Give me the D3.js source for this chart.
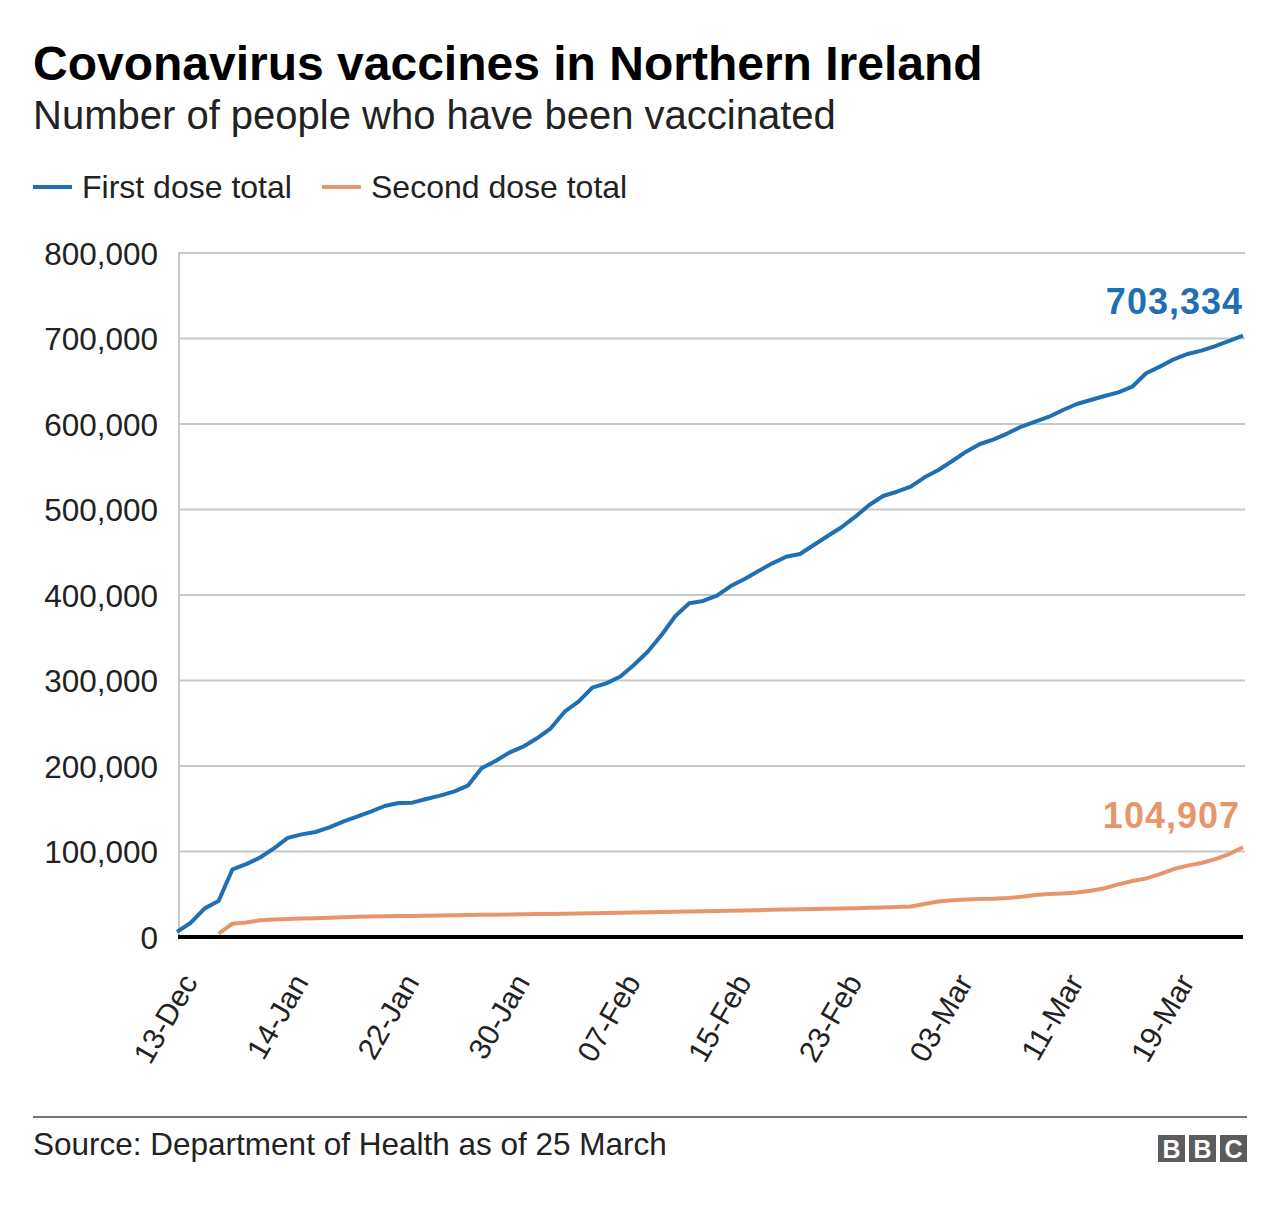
<!DOCTYPE html>
<html>
<head>
<meta charset="utf-8">
<script src="https://cdn.jsdelivr.net/npm/d3@7"></script>
<style>
  html, body { margin: 0; padding: 0; background: #fff; }
  svg text { font-family: "Liberation Sans", Arial, Helvetica, sans-serif; }
</style>
</head>
<body>
<svg id="chart" width="1280" height="1206"></svg>
<script>
// ---- data ----
const dates = [
  "13-Dec","20-Dec","27-Dec","03-Jan","10-Jan","11-Jan","12-Jan","13-Jan",
  "14-Jan","15-Jan","16-Jan","17-Jan","18-Jan","19-Jan","20-Jan","21-Jan",
  "22-Jan","23-Jan","24-Jan","25-Jan","26-Jan","27-Jan","28-Jan","29-Jan",
  "30-Jan","31-Jan","01-Feb","02-Feb","03-Feb","04-Feb","05-Feb","06-Feb",
  "07-Feb","08-Feb","09-Feb","10-Feb","11-Feb","12-Feb","13-Feb","14-Feb",
  "15-Feb","16-Feb","17-Feb","18-Feb","19-Feb","20-Feb","21-Feb","22-Feb",
  "23-Feb","24-Feb","25-Feb","26-Feb","27-Feb","28-Feb","01-Mar","02-Mar",
  "03-Mar","04-Mar","05-Mar","06-Mar","07-Mar","08-Mar","09-Mar","10-Mar",
  "11-Mar","12-Mar","13-Mar","14-Mar","15-Mar","16-Mar","17-Mar","18-Mar",
  "19-Mar","20-Mar","21-Mar","22-Mar","23-Mar","24-Mar"
];
const firstDose = [
  6000, 16700, 33500, 42000, 79000, 85200, 93000, 103700,
  116000, 120000, 122800, 128300, 134900, 140700, 146600, 153200,
  156700, 157100, 161400, 165300, 170000, 177000, 197300, 205800,
  215600, 222600, 232400, 244100, 263500, 275200, 291600, 296700,
  304400, 318100, 333700, 353200, 375400, 390300, 393000, 399200,
  410500, 418700, 428100, 437000, 444800, 448000, 458500, 469000,
  479200, 491600, 505300, 515800, 520800, 526700, 537600, 546200,
  556700, 567600, 576600, 582100, 589100, 597000, 602700, 608500,
  616400, 623400, 628100, 632700, 637000, 643600, 659300, 667100,
  675700, 681900, 685800, 691200, 697100, 703334
];
const secondDose = [
  null, null, null, 4000, 15500, 17000, 19500, 20500,
  21000, 21500, 22000, 22600, 23200, 23600, 24000, 24300,
  24500, 24700, 24900, 25100, 25300, 25600, 25900, 26100,
  26300, 26500, 26800, 27000, 27300, 27600, 27900, 28200,
  28500, 28700, 29000, 29300, 29600, 29900, 30100, 30400,
  30700, 31000, 31400, 31800, 32100, 32400, 32700, 33000,
  33300, 33700, 34100, 34500, 35000, 35600, 38500, 41500,
  43000, 44000, 44300, 44600, 45500, 47000, 49000, 50200,
  51000, 52000, 54000, 57000, 61500, 65500, 68500, 73500,
  79500, 83500, 86500, 91000, 97000, 104907
];
const yTicks = [0, 100000, 200000, 300000, 400000, 500000, 600000, 700000, 800000];
const seriesNames = ["First dose total", "Second dose total"];
const endLabels = ["703,334", "104,907"];

// ---- styles ----
const BLUE = "#1f6fb4";
const ORANGE = "#e6966a";

const svg = d3.select("#chart");

// Title & subtitle
svg.append("text").attr("x", 33).attr("y", 80)
  .style("font-size", "48px").style("font-weight", "bold").attr("fill", "#000")
  .text("Covonavirus vaccines in Northern Ireland");
svg.append("text").attr("x", 33).attr("y", 129)
  .style("font-size", "40px").attr("fill", "#222")
  .text("Number of people who have been vaccinated");

// Legend
const legend = svg.append("g");
const legendItems = [
  {name: seriesNames[0], color: BLUE, x: 33},
  {name: seriesNames[1], color: ORANGE, x: 322}
];
legendItems.forEach(it => {
  legend.append("line").attr("x1", it.x).attr("x2", it.x + 39)
    .attr("y1", 187).attr("y2", 187)
    .attr("stroke", it.color).attr("stroke-width", 4);
  legend.append("text").attr("x", it.x + 49).attr("y", 198)
    .style("font-size", "32px").attr("fill", "#222").text(it.name);
});

// Scales
const x = d3.scalePoint().domain(dates).range([177, 1243]).padding(0);
const y = d3.scaleLinear().domain([0, 800000]).range([937, 253]);

// Gridlines
svg.append("g").selectAll("line").data(yTicks.filter(d => d > 0)).join("line")
  .attr("x1", 178).attr("x2", 1245)
  .attr("y1", d => y(d)).attr("y2", d => y(d))
  .attr("stroke", "#c8c8c8").attr("stroke-width", 2);
// left axis line
svg.append("line").attr("x1", 179).attr("x2", 179)
  .attr("y1", y(800000)).attr("y2", y(0))
  .attr("stroke", "#c8c8c8").attr("stroke-width", 2);

// Y axis labels
const fmt = d3.format(",");
const yAxis = d3.axisLeft(y).tickValues(yTicks).tickSize(0).tickPadding(0)
  .tickFormat(d => fmt(d));
const gy = svg.append("g").attr("transform", "translate(158,0)").call(yAxis);
gy.select(".domain").remove();
gy.selectAll("text").style("font-size", "31.5px").attr("fill", "#222")
  .style("font-family", "'Liberation Sans', Arial, sans-serif").attr("dy", "0.35em");

// Lines
const line = d3.line()
  .defined(d => d.v != null)
  .x(d => x(d.date)).y(d => y(d.v));
const s1 = dates.map((d, i) => ({date: d, v: firstDose[i]}));
const s2 = dates.map((d, i) => ({date: d, v: secondDose[i]}));
svg.append("path").datum(s2).attr("d", line)
  .attr("fill", "none").attr("stroke", ORANGE).attr("stroke-width", 4)
  .attr("stroke-linejoin", "round");
svg.append("path").datum(s1).attr("d", line)
  .attr("fill", "none").attr("stroke", BLUE).attr("stroke-width", 4)
  .attr("stroke-linejoin", "round");

// X axis (zero line + labels)
const xAxis = d3.axisBottom(x)
  .tickValues(dates.filter((d, i) => i % 8 === 0))
  .tickSize(0);
const gx = svg.append("g").attr("transform", `translate(0,${y(0)})`).call(xAxis);
gx.select(".domain").remove();
gx.selectAll("text")
  .attr("x", 0).attr("y", 0).attr("dy", 0)
  .attr("transform", "translate(21,45) rotate(-60)")
  .style("text-anchor", "end")
  .style("font-size", "30px")
  .style("font-family", "'Liberation Sans', Arial, sans-serif")
  .attr("fill", "#222");
svg.append("line").attr("x1", 178).attr("x2", 1243)
  .attr("y1", y(0)).attr("y2", y(0))
  .attr("stroke", "#000").attr("stroke-width", 4);

// End labels
svg.append("text").attr("x", 1243).attr("y", 314)
  .attr("text-anchor", "end").style("font-size", "36px").style("font-weight", "bold")
  .style("letter-spacing", "1px")
  .attr("fill", BLUE).text(endLabels[0]);
svg.append("text").attr("x", 1240).attr("y", 828)
  .attr("text-anchor", "end").style("font-size", "36px").style("font-weight", "bold")
  .style("letter-spacing", "1px")
  .attr("fill", ORANGE).text(endLabels[1]);

// Footer
svg.append("line").attr("x1", 33).attr("x2", 1247).attr("y1", 1117).attr("y2", 1117)
  .attr("stroke", "#444").attr("stroke-width", 1.5);
svg.append("text").attr("x", 33).attr("y", 1155)
  .style("font-size", "31.5px").attr("fill", "#222")
  .text("Source: Department of Health as of 25 March");

// BBC logo
const logo = svg.append("g");
["B", "B", "C"].forEach((ch, i) => {
  const bx = 1158 + i * 31;
  logo.append("rect").attr("x", bx).attr("y", 1135).attr("width", 27).attr("height", 27)
    .attr("fill", "#5c5c5c");
  logo.append("text").attr("x", bx + 13.5).attr("y", 1158).attr("text-anchor", "middle")
    .style("font-size", "25px").style("font-weight", "bold").attr("fill", "#fff").text(ch);
});
</script>
</body>
</html>
